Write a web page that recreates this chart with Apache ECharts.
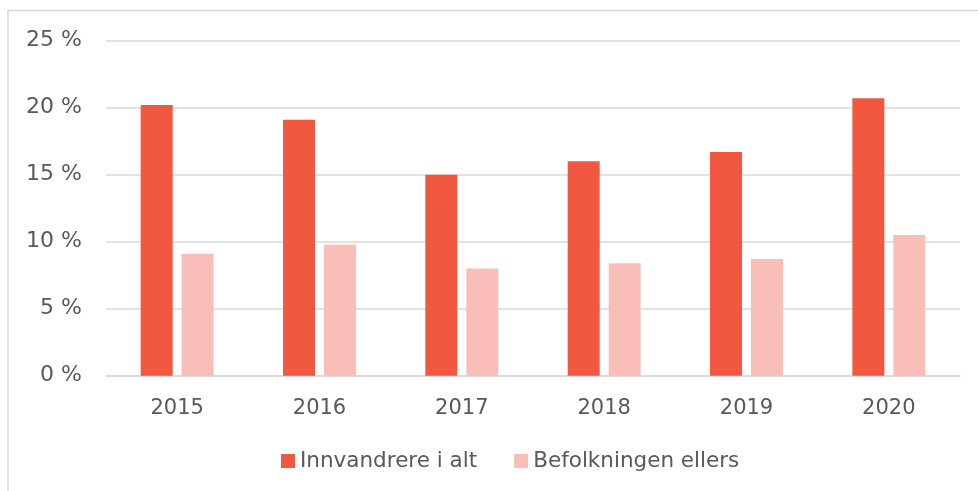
<!DOCTYPE html>
<html>
<head>
<meta charset="utf-8">
<script src="https://cdn.jsdelivr.net/npm/echarts@6/dist/echarts.min.js"></script>
<style>
html,body{margin:0;padding:0;background:#fff;}
#chart{width:978px;height:491px;}
</style>
</head>
<body>
<div id="chart"></div>
<script>
var categories = ['2015', '2016', '2017', '2018', '2019', '2020'];
var innvandrere = [20.2, 19.1, 15.0, 16.0, 16.7, 20.7];
var befolkningen = [9.1, 9.8, 8.0, 8.4, 8.7, 10.5];
var seriesNames = ['Innvandrere i alt', 'Befolkningen ellers'];
var yTicks = [0, 5, 10, 15, 20, 25];

var font = 'DejaVu Sans';
var textColor = '#595959';
var chart = echarts.init(document.getElementById('chart'), null, {renderer: 'canvas'});
chart.setOption({
  animation: false,
  backgroundColor: '#fff',
  graphic: [{
    type: 'rect',
    shape: {x: 8, y: 10.5, width: 1000, height: 600},
    style: {fill: 'none', stroke: '#d9d9d9', lineWidth: 1.5},
    silent: true, z: -1
  }],
  grid: {left: 106, right: 18, top: 40.7, bottom: 115.3, containLabel: false},
  legend: {
    data: seriesNames,
    bottom: 14,
    left: 276,
    itemWidth: 14,
    itemHeight: 14,
    itemGap: 37,
    icon: 'rect',
    textStyle: {fontFamily: font, fontSize: 21.5, color: textColor, padding: [0, 0, 0, 0]}
  },
  xAxis: {
    type: 'category',
    data: categories,
    axisLine: {show: true, lineStyle: {color: '#d9d9d9', width: 1.5}},
    axisTick: {show: false},
    axisLabel: {fontFamily: font, fontSize: 21, color: textColor, margin: 22}
  },
  yAxis: {
    type: 'value',
    min: yTicks[0],
    max: yTicks[yTicks.length - 1],
    interval: 5,
    axisLine: {show: false},
    axisTick: {show: false},
    splitLine: {lineStyle: {color: '#d9d9d9', width: 1.5}},
    axisLabel: {fontFamily: font, fontSize: 22, color: textColor, margin: 24,
      formatter: function (v) { return v + ' %'; }}
  },
  series: [
    {name: seriesNames[0], type: 'bar', data: innvandrere, barWidth: 32, barGap: '28%',
      itemStyle: {color: '#F2573F'}},
    {name: seriesNames[1], type: 'bar', data: befolkningen, barWidth: 32,
      itemStyle: {color: '#F9BEB7'}}
  ]
});
</script>
</body>
</html>
